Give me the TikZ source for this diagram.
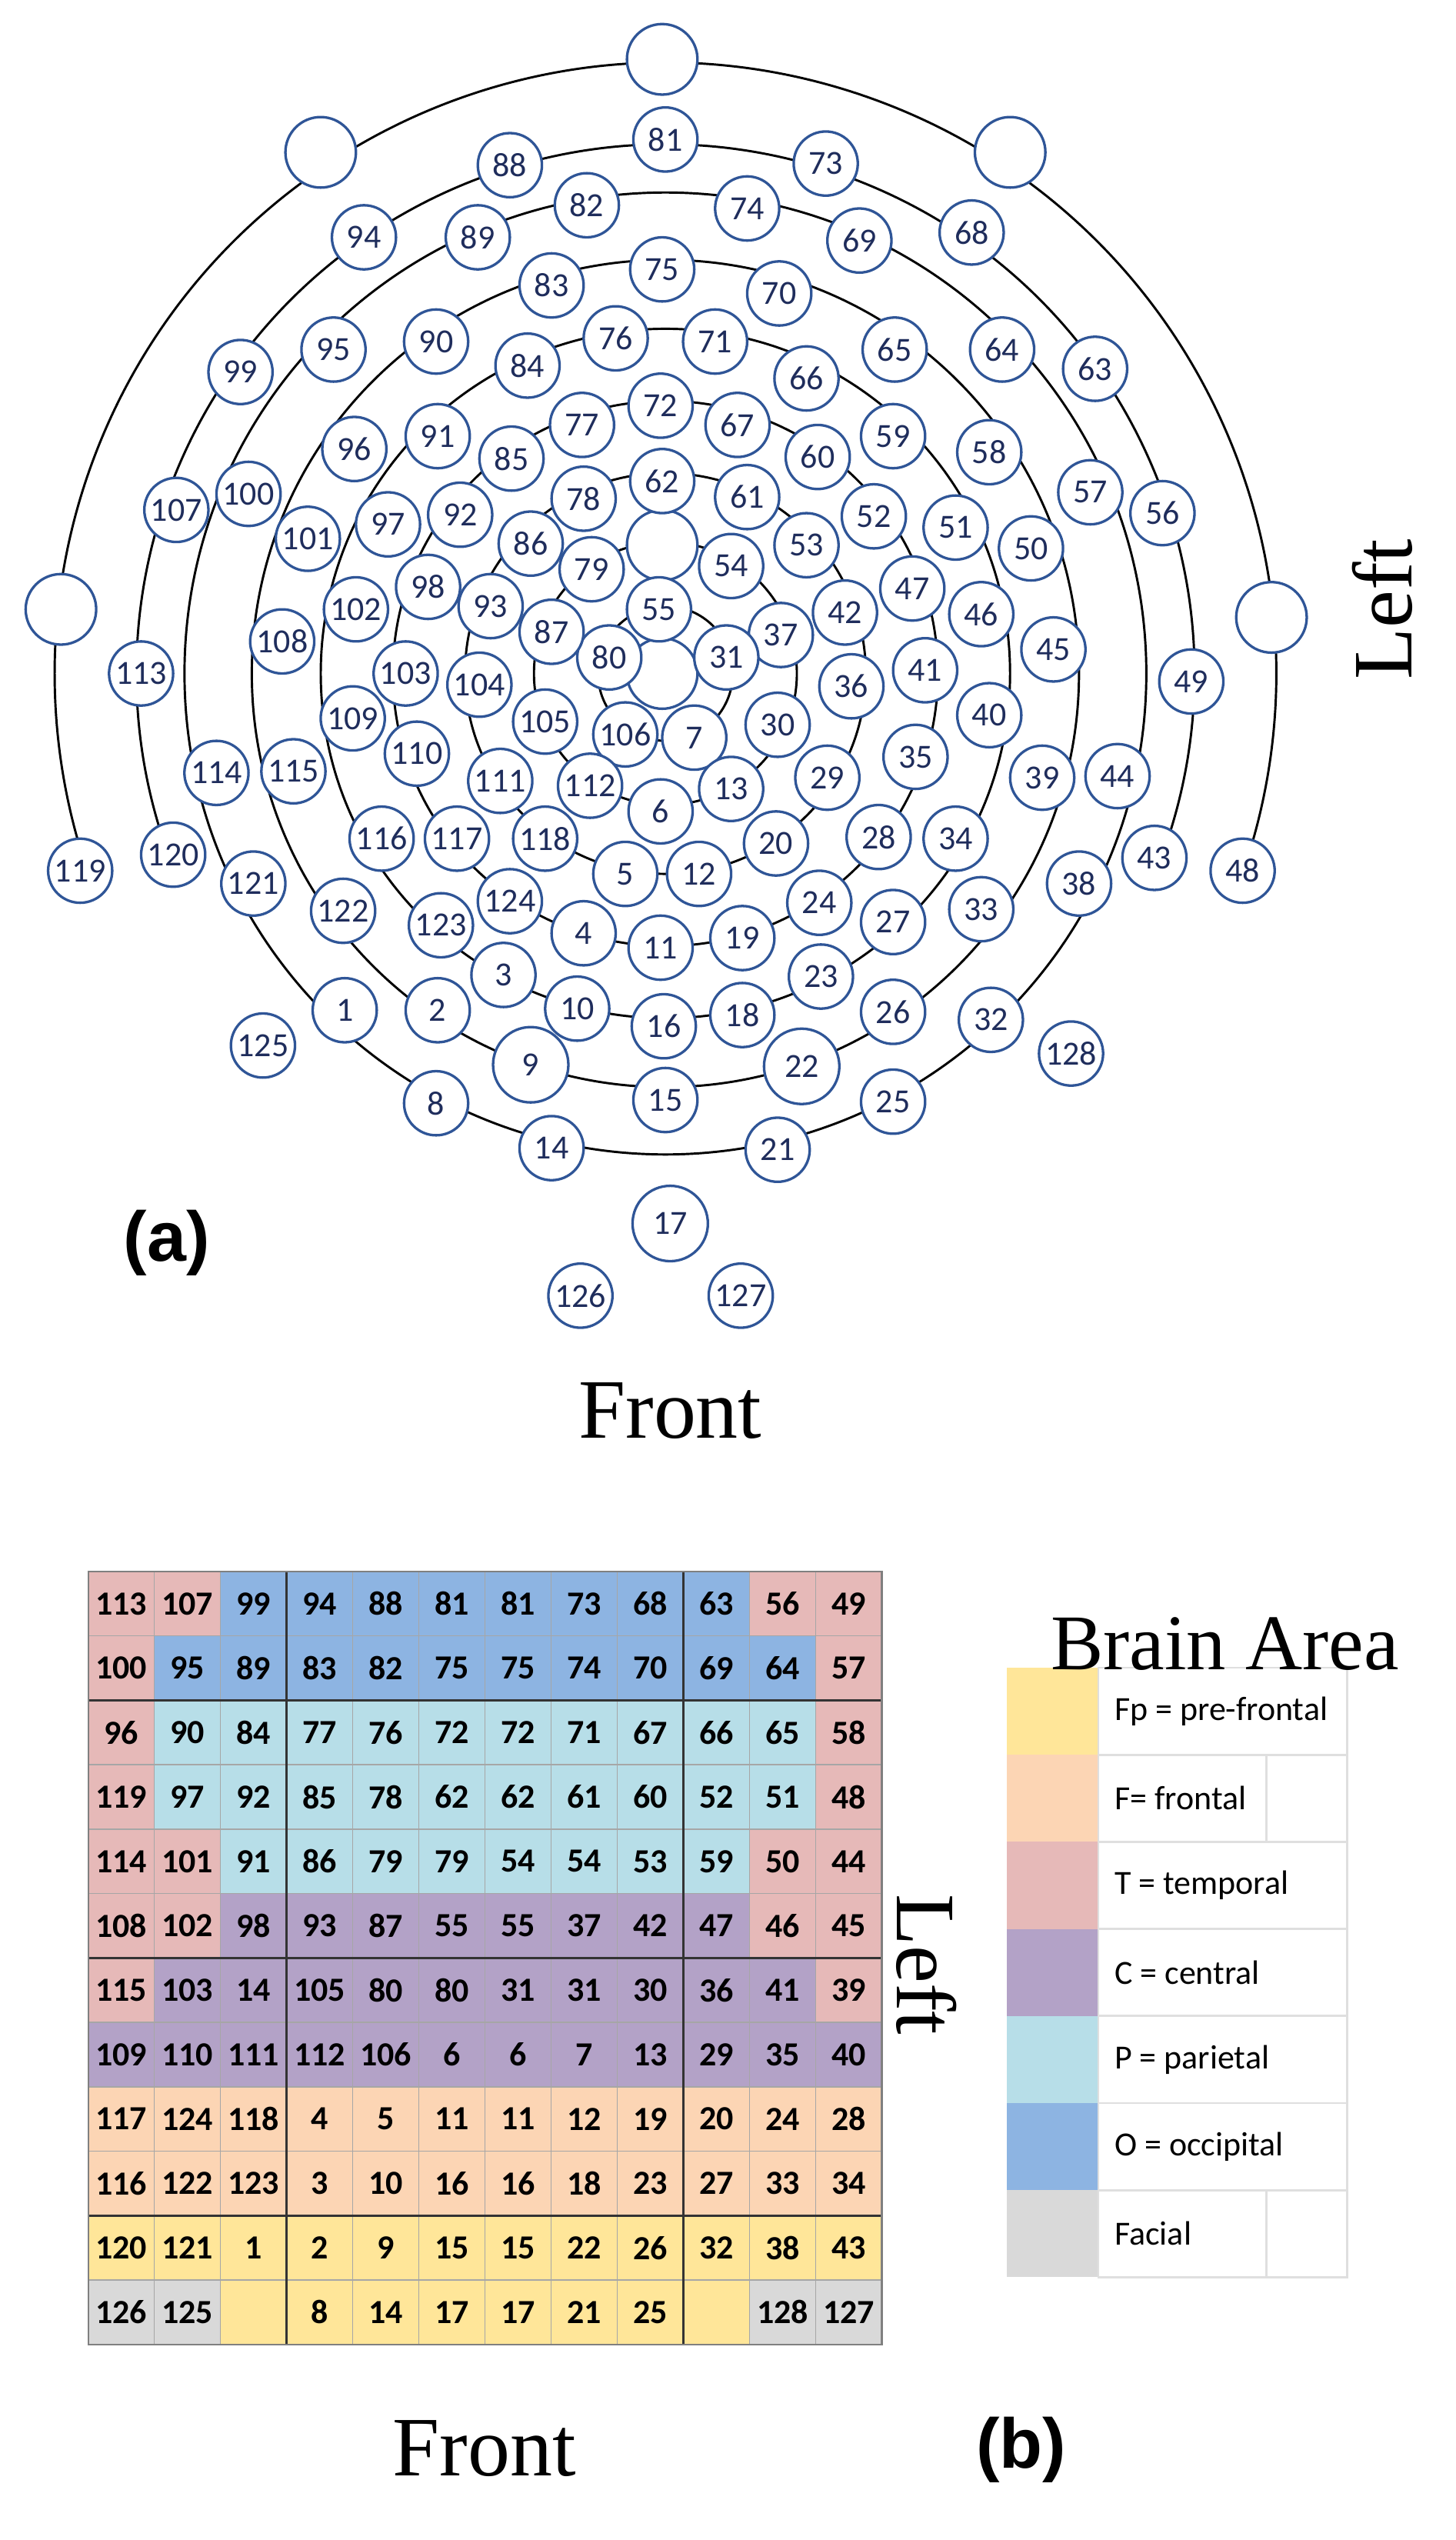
\documentclass[tikz,border=0pt]{standalone}
\usepackage{fontspec}
\setmainfont{Liberation Serif}
\newfontfamily\carl{Carlito}
\newfontfamily\arl{Liberation Sans}
\definecolor{ering}{HTML}{2F5597}
\definecolor{etext}{HTML}{1F2D5C}
\definecolor{cT}{HTML}{E6B9B8}
\definecolor{cO}{HTML}{8DB4E2}
\definecolor{cP}{HTML}{B7DEE8}
\definecolor{cC}{HTML}{B3A2C7}
\definecolor{cF}{HTML}{FCD5B4}
\definecolor{cY}{HTML}{FFE699}
\definecolor{cG}{HTML}{D9D9D9}
\tikzset{
 elec/.style={circle,draw=ering,line width=0.9pt,fill=white,minimum size=0.8cm,inner sep=0pt,text=etext,font=\carl\fontsize{12}{12}\selectfont},
 big/.style={minimum size=0.94cm},
 blank/.style={circle,draw=ering,line width=0.9pt,fill=white,minimum size=0.88cm,inner sep=0pt},
 ring/.style={black,line width=0.8pt},
 cell/.style={font=\carl\bfseries\fontsize{12}{12}\selectfont,text=black},
 lab/.style={font=\fontsize{30}{30}\selectfont},
 leg/.style={font=\carl\fontsize{12}{12}\selectfont,anchor=west}
}
\begin{document}
\begin{tikzpicture}[x=0.02cm,y=-0.02cm]
\useasboundingbox[fill=white] (0,0) rectangle (908,1584);
\coordinate (C) at (415,420);
% rings
\draw[ring] (C) ++(-19:7.62cm) arc[start angle=-19,end angle=199,radius=7.62cm];
\draw[ring] (C) ++(-20:6.6cm) arc[start angle=-20,end angle=200,radius=6.6cm];
\foreach \r in {0.84,1.64,2.5,3.4,4.3,5.16,6.0} \draw[ring] (C) circle[radius=\r cm];
% blank electrodes
\foreach \x/\y [count=\i] in {413/37,200/95,630/95,38/380,793/385,413/340,413/420}
  \node[blank] (b\i) at (\x,\y) {};
% electrodes
\foreach \n/\x/\y in {81/415/87,88/318/103,73/515/102,82/366/128,74/466/130,94/227/148,89/298/148,69/536/150,68/606/145,75/413/168,83/344/178,70/486/183,99/150/232,95/208/218,90/272/213,84/329/228,76/384/211,71/446/213,66/503/236,65/558/218,64/625/218,63/683/230,96/221/280,91/273/272,85/319/286,77/363/265,72/412/253,67/460/265,60/510/285,59/557/272,58/617/282,57/680/307,56/725/320,107/110/318,100/155/308,101/192/336,97/242/327,92/287/321,86/331/339,78/364/311,62/413/300,61/466/310,53/503/340,52/545/322,51/596/329,50/643/342,54/456/353,79/369/355,47/569/367,46/612/383,45/657/405,42/527/382,37/487/396,31/453/410,55/411/380,80/380/410,87/344/394,93/306/378,98/267/366,102/222/380,108/176/400,113/88/420,103/253/420,104/299/427,105/340/450,106/390/458,7/433/460,30/485/452,36/531/428,41/577/418,40/617/446,49/743/425,109/220/448,110/260/470,111/312/487,112/368/490,6/412/506,13/456/492,29/516/485,35/571/472,39/650/485,44/697/484,114/135/482,115/183/481,116/238/523,117/285/523,118/340/523,5/390/545,12/436/545,20/484/526,28/548/522,34/596/523,43/720/535,48/775/543,38/673/551,119/50/543,120/108/533,121/158/551,122/214/568,123/275/577,124/318/562,4/364/582,11/412/591,19/463/585,24/511/563,27/557/575,33/612/567,3/314/608,10/360/629,16/414/640,18/463/633,23/512/609,26/557/631,32/618/636,128/668/657,125/164/652,1/215/630,2/273/630,15/415/686,25/557/687,8/272/688,14/344/716,21/485/717,126/362/808,127/462/808}
  \node[elec] (e\n) at (\x,\y) {\n};
\foreach \n/\x/\y in {9/331/664,22/500/665,17/418/763}
  \node[elec,big] (e\n) at (\x,\y) {\n};
\node[lab,rotate=90] (leftA) at (862,380) {Left};
\node[lab] (frontA) at (418,880) {Front};
\node[font=\arl\bfseries\fontsize{25}{25}\selectfont] (la) at (104,775) {(a)};
% table
\foreach \row [count=\r] in {
 {113/T,107/T,99/O,94/O,88/O,81/O,81/O,73/O,68/O,63/O,56/T,49/T},
 {100/T,95/O,89/O,83/O,82/O,75/O,75/O,74/O,70/O,69/O,64/O,57/T},
 {96/T,90/P,84/P,77/P,76/P,72/P,72/P,71/P,67/P,66/P,65/P,58/T},
 {119/T,97/P,92/P,85/P,78/P,62/P,62/P,61/P,60/P,52/P,51/P,48/T},
 {114/T,101/T,91/P,86/P,79/P,79/P,54/P,54/P,53/P,59/P,50/T,44/T},
 {108/T,102/T,98/C,93/C,87/C,55/C,55/C,37/C,42/C,47/C,46/T,45/T},
 {115/T,103/C,14/C,105/C,80/C,80/C,31/C,31/C,30/C,36/C,41/C,39/T},
 {109/C,110/C,111/C,112/C,106/C,6/C,6/C,7/C,13/C,29/C,35/C,40/C},
 {117/F,124/F,118/F,4/F,5/F,11/F,11/F,12/F,19/F,20/F,24/F,28/F},
 {116/F,122/F,123/F,3/F,10/F,16/F,16/F,18/F,23/F,27/F,33/F,34/F},
 {120/Y,121/Y,1/Y,2/Y,9/Y,15/Y,15/Y,22/Y,26/Y,32/Y,38/Y,43/Y},
 {126/G,125/G,{}/Y,8/Y,14/Y,17/Y,17/Y,21/Y,25/Y,{}/Y,128/G,127/G}}{
  \foreach \n/\c [count=\i] in \row {
    \fill[c\c] ({55+41.25*(\i-1)},{980+40.17*(\r-1)}) rectangle ({55+41.25*\i},{980+40.17*\r});
    \node[cell] (t\r-\i) at ({55+41.25*(\i-0.5)},{980+40.17*(\r-0.5)}) {\n};
  }
}
\foreach \k in {0,...,12} {
  \draw[gray!70,line width=0.4pt] ({55+41.25*\k},980) -- ({55+41.25*\k},1462);
  \draw[gray!70,line width=0.4pt] (55,{980+40.17*\k}) -- (550,{980+40.17*\k});
}
\foreach \k in {3,9} \draw[black!80,line width=0.8pt] ({55+41.25*\k},980) -- ({55+41.25*\k},1462);
\foreach \k in {2,6,10} \draw[black!80,line width=0.8pt] (55,{980+40.17*\k}) -- (550,{980+40.17*\k});
\draw[gray,line width=0.6pt] (55,980) rectangle (550,1462);
\node[lab,rotate=-90] (leftB) at (578,1225) {Left};
\node[lab] (frontB) at (302,1527) {Front};
\node[font=\arl\bfseries\fontsize{25}{25}\selectfont] (lb) at (637,1528) {(b)};
% legend
\foreach \c/\t [count=\i] in {Y/Fp = pre-frontal,F/F= frontal,T/T = temporal,C/C = central,P/P = parietal,O/O = occipital,G/Facial}{
  \fill[c\c] (628,{1040+54.3*(\i-1)}) rectangle (685,{1040+54.3*\i});
  \draw[gray!25,line width=0.8pt] (685,{1040+54.3*(\i-1)}) rectangle (840,{1040+54.3*\i});
  \node[leg] (lg\i) at (689,{1040+54.3*(\i-0.5)}) {\t};
}
\foreach \i in {2,7} \draw[gray!25,line width=0.8pt] (790,{1040+54.3*(\i-1)}) -- (790,{1040+54.3*\i});
\node[font=\fontsize{28}{28}\selectfont] (ba) at (764,1025) {Brain Area};
\end{tikzpicture}
\end{document}
